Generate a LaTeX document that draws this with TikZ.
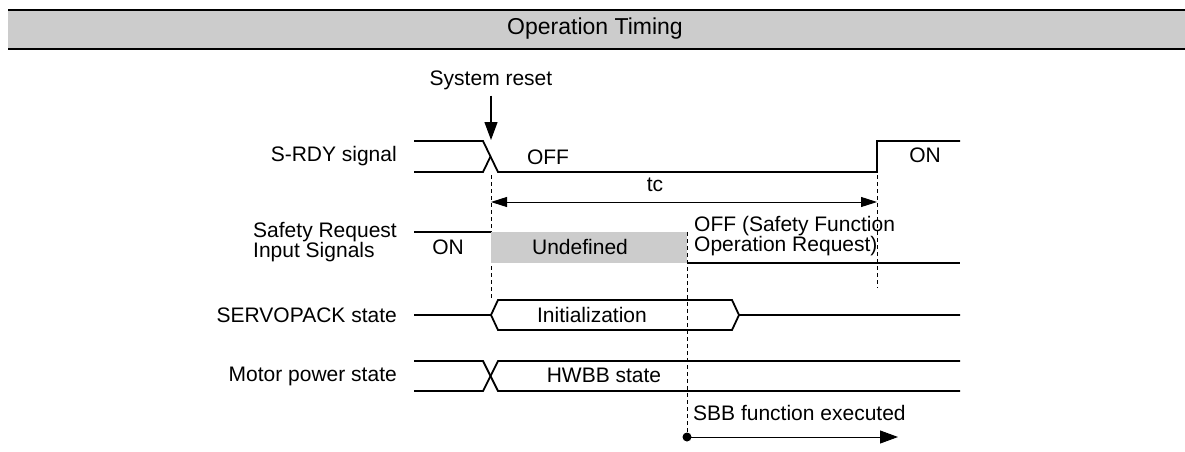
\documentclass[tikz,border=0pt]{standalone}
\usepackage{fontspec}
\setmainfont{Liberation Sans}
\usetikzlibrary{arrows.meta,positioning}
\newcommand{\sigfont}{\fontsize{21}{20}\selectfont}
\tikzset{
  >={Triangle[length=16pt, width=10pt]},
  bighead/.style={-{Triangle[length=18pt, width=13pt]}},
  wave/.style={line width=1.8pt, line join=miter},
  guide/.style={line width=0.7pt, dash pattern=on 4pt off 3pt},
  siglabel/.style={anchor=east, align=left, inner sep=0pt, font=\sigfont},
  txt/.style={inner sep=0pt, font=\sigfont},
  undef/.style={fill=black!20},
}
\begin{document}
\begin{tikzpicture}[x=1pt, y=-1pt]
  \useasboundingbox (0,0) rectangle (1185,452);

  % header bar
  \fill[black!20] (8,10) rectangle (1185,49);
  \draw[line width=2pt] (8,10) -- (1185,10);
  \draw[line width=2pt] (8,49) -- (1185,49);
  \node[txt, font=\fontsize{23}{24}\selectfont] (title) at (595,29) {Operation Timing};

  % signal names
  \node[siglabel] (srdy) at (397,156) {S-RDY signal};
  \node[siglabel] (sreq) at (397,242) {Safety Request\\Input Signals};
  \node[siglabel] (spack) at (397,315) {SERVOPACK state};
  \node[siglabel] (mpow) at (397,376) {Motor power state};

  % S-RDY signal
  \draw[wave] (414,141) -- (483,141) -- (498,172) -- (877,172) -- (877,141) -- (960,141);
  \draw[wave] (414,172) -- (483,172) -- (490.5,156.5);
  \node[txt] (off1) at (548,157) {OFF};
  \node[txt] (on1) at (925,155) {ON};

  % system reset
  \node[txt] (reset) at (491,80) {System reset};
  \coordinate (rtip) at (491,140);
  \draw[bighead, line width=1.2pt] (reset.south) ++(0,6) -- (rtip);
  \draw[guide] (491,175) -- (491,300);
  \draw[guide] (877,175) -- (877,288);

  % tc
  \coordinate (tcl) at (491,202);
  \coordinate (tcr) at (877,202);
  \draw[<->, line width=0.9pt] (tcl) -- (tcr);
  \node[txt] (tc) at (655,185) {tc};

  % safety request input signals
  \fill[undef] (491,232) rectangle (687,263);
  \draw[wave] (414,232) -- (491,232);
  \draw[wave] (687,263) -- (960,263);
  \node[txt] (on2) at (448,247) {ON};
  \node[txt] (undefd) at (580,247) {Undefined};
  \node[txt, anchor=west, align=left] (off2) at (694,236) {OFF (Safety Function\\Operation Request)};
  \draw[guide] (687,232) -- (687,437);

  % SERVOPACK state
  \draw[wave] (414,315) -- (491,315) -- (498,300) -- (732,300) -- (739,315) -- (960,315);
  \draw[wave] (491,315) -- (498,330) -- (732,330) -- (739,315);
  \node[txt] (init) at (592,315) {Initialization};

  % motor power state
  \draw[wave] (414,361) -- (483,361) -- (498,391) -- (960,391);
  \draw[wave] (414,391) -- (483,391) -- (498,361) -- (960,361);
  \node[txt] (hwbb) at (604,375) {HWBB state};

  % SBB
  \coordinate (sbb) at (687,437);
  \coordinate (sbbend) at (898,437);
  \fill (sbb) circle (4.5pt);
  \draw[bighead, line width=1pt] (sbb) -- (sbbend);
  \node[txt, anchor=west] (sbbtxt) at (693,413) {SBB function executed};
\end{tikzpicture}
\end{document}
